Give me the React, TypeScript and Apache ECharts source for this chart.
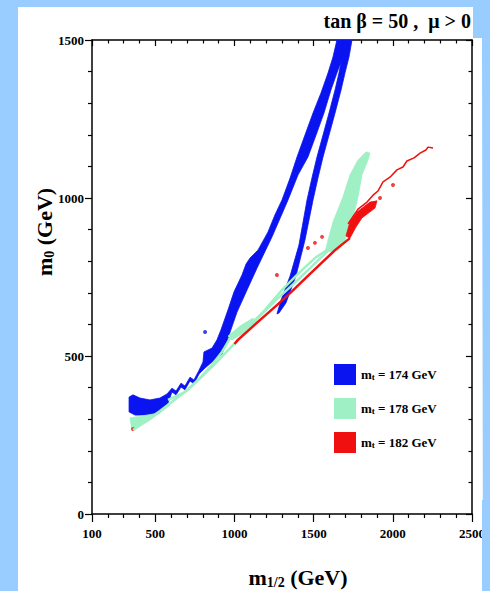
import React, { useEffect, useRef } from "react";
import * as echarts from "echarts";

// ---------- axis ticks / labels ----------
const X_TICK_LABELS = [100, 500, 1000, 1500, 2000, 2500];
const X_MAJOR_TICKS = [100, 500, 1000, 1500, 2000, 2500];
const X_MINOR_TICKS = [200, 300, 400, 600, 700, 800, 900, 1100, 1200, 1300, 1400, 1600, 1700, 1800, 1900, 2100, 2200, 2300, 2400];
const Y_TICK_LABELS = [0, 500, 1000, 1500];
const Y_MAJOR_TICKS = [0, 500, 1000, 1500];
const Y_MINOR_TICKS = [100, 200, 300, 400, 600, 700, 800, 900, 1100, 1200, 1300, 1400];

const LEGEND_NAMES = ["m_t = 174 GeV", "m_t = 178 GeV", "m_t = 182 GeV"];
const COLORS = ["#0a14f0", "#9ff0c4", "#f01010"];

// ---------- m_t = 174 GeV (blue) regions: [m1/2, m0] ----------
const BLUE_MAIN = [
  [334, 370], [334, 323], [372, 313], [454, 313], [517, 316], [561, 339], [580, 351],
  [605, 386], [631, 377], [662, 402], [687, 393], [719, 421], [744, 412], [776, 443], [814, 462], [858, 481], [921, 506],
  [946, 538], [1016, 639], [1079, 709], [1142, 778], [1237, 877], [1338, 994], [1401, 1073], [1464, 1130],
  [1515, 1199], [1565, 1269], [1609, 1342], [1647, 1396], [1685, 1446], [1704, 1500],
  [1647, 1500], [1622, 1446], [1591, 1396], [1546, 1332], [1496, 1269], [1445, 1199], [1395, 1130],
  [1351, 1063], [1300, 994], [1255, 946], [1211, 892], [1148, 835], [1098, 810], [1073, 791], [1047, 756],
  [997, 703], [959, 646], [914, 582], [889, 551], [858, 525], [807, 513],
  [801, 481], [776, 455], [744, 424], [719, 433], [687, 405], [662, 414], [631, 389], [605, 398], [574, 380],
  [529, 367], [466, 361], [403, 367], [359, 377],
];
const BLUE_BRANCH = [
  [1268, 633], [1294, 677], [1351, 753], [1407, 851], [1458, 994], [1489, 1063], [1521, 1130], [1559, 1199],
  [1597, 1269], [1635, 1342], [1660, 1396], [1679, 1446], [1685, 1500],
  [1742, 1500], [1723, 1446], [1698, 1396], [1673, 1342], [1635, 1269], [1597, 1199], [1559, 1130],
  [1527, 1063], [1496, 994], [1445, 867], [1388, 753], [1325, 668], [1281, 636],
];
const BLUE_DOTS = [[814, 576]];

// ---------- m_t = 178 GeV (green) regions ----------
const GREEN_BLOB = [
  [1572, 829], [1591, 867], [1622, 924], [1685, 1003], [1729, 1073], [1780, 1120], [1831, 1146],
  [1856, 1142], [1843, 1120], [1805, 1073], [1780, 1003], [1742, 924], [1698, 867], [1654, 835],
];
const GREEN_PATCH = [[959, 563], [1035, 595], [1117, 620], [1129, 608], [1066, 576], [984, 551]];
const GREEN_TIP = [[340, 304], [529, 320], [593, 345], [466, 297], [353, 263]];
const GREEN_LINE_UPPER = [
  [580, 361], [687, 386], [782, 430], [858, 472], [921, 513], [984, 566], [1066, 592], [1117, 608],
  [1193, 646], [1300, 709], [1414, 766], [1508, 810], [1603, 842],
];
const GREEN_LINE_LOWER = [
  [359, 266], [529, 326], [719, 399], [877, 475], [1022, 551], [1148, 620], [1268, 680], [1351, 718],
  [1477, 778], [1622, 848],
];

// ---------- m_t = 182 GeV (red) regions ----------
const RED_LINE = [
  [1000, 538], [1022, 551], [1148, 608], [1268, 661], [1351, 699], [1477, 760], [1635, 835], [1729, 873],
];
const RED_BLOB = [
  [1704, 880], [1729, 924], [1774, 956], [1856, 987], [1900, 991], [1887, 968], [1805, 937], [1767, 908], [1729, 873],
];
const RED_ZIGZAG = [
  [1717, 918], [1780, 965], [1837, 987], [1875, 1009], [1906, 1022], [1938, 1051], [1982, 1066], [2026, 1089],
  [2064, 1098], [2089, 1117], [2134, 1127], [2172, 1142], [2209, 1152], [2222, 1161], [2254, 1158],
];
const RED_DOTS = [[2001, 1041], [1919, 1000], [1553, 877], [1508, 858], [1464, 842], [1268, 756], [359, 269]];

const SERIF = '"Liberation Serif", "Times New Roman", serif';

function polygonSeries(name: string, pts: number[][], color: string) {
  return {
    type: "custom",
    name,
    coordinateSystem: "cartesian2d",
    data: pts,
    encode: { x: 0, y: 1 },
    clip: true,
    silent: true,
    itemStyle: { color },
    renderItem: (params: any, api: any) => {
      if (params.dataIndex !== 0) return null;
      return {
        type: "polygon",
        shape: { points: pts.map((p) => api.coord(p)) },
        style: { fill: color, stroke: color, lineWidth: 0.8 },
      };
    },
  };
}

function lineSeries(name: string, pts: number[][], color: string, width: number) {
  return {
    type: "line",
    name,
    data: pts,
    showSymbol: false,
    symbol: "none",
    clip: true,
    silent: true,
    itemStyle: { color },
    lineStyle: { color, width },
  };
}

function dotSeries(name: string, pts: number[][], color: string, size: number) {
  return {
    type: "scatter",
    name,
    data: pts,
    symbolSize: size,
    silent: true,
    itemStyle: { color },
  };
}

export default function App() {
  const ref = useRef<HTMLDivElement>(null);

  useEffect(() => {
    if (!ref.current) return;
    const chart = echarts.init(ref.current, null, { renderer: "svg" });
    const labelStyle = {
      fontFamily: SERIF, fontWeight: "bold", fontSize: 13, color: "#000",
      formatter: (v: number) => String(v),
    };
    const lineCol = { color: "#000", width: 1.5 };
    const tickCol = { color: "#000", width: 1.2 };
    const xBase = { type: "value", min: 100, max: 2500, splitLine: { show: false } };
    const yBase = { type: "value", min: 0, max: 1500, splitLine: { show: false } };

    const legendRich = {
      m: { fontFamily: SERIF, fontWeight: "bold", fontSize: 13, lineHeight: 14, verticalAlign: "top", color: "#000" },
      s: { fontFamily: SERIF, fontWeight: "bold", fontSize: 9, lineHeight: 10, padding: [7, 0, 0, 0], verticalAlign: "bottom", color: "#000" },
      r: { fontFamily: SERIF, fontWeight: "bold", fontSize: 13, lineHeight: 14, verticalAlign: "top", color: "#000" },
    };
    const titleRich = {
      m: { font: `bold 22px ${SERIF}`, lineHeight: 23, verticalAlign: "top", fill: "#000" },
      s: { font: `bold 14px ${SERIF}`, lineHeight: 15, padding: [12, 0, 0, 0], verticalAlign: "bottom", fill: "#000" },
      r: { font: `bold 22px ${SERIF}`, lineHeight: 23, verticalAlign: "top", fill: "#000" },
    };

    chart.setOption({
      animation: false,
      backgroundColor: "transparent",
      grid: { left: 92, top: 40, width: 380, height: 474, containLabel: false },
      legend: {
        orient: "vertical",
        left: 329,
        top: 359,
        itemWidth: 22,
        itemHeight: 21,
        itemGap: 13,
        icon: "rect",
        selectedMode: false,
        data: LEGEND_NAMES.map((n, i) => ({ name: n, icon: "rect", itemStyle: { color: COLORS[i] } })),
        formatter: (name: string) => `{m|m}{s|t}{r|${name.slice(3)}}`,
        textStyle: { rich: legendRich },
      },
      xAxis: [
        {
          ...xBase,
          position: "bottom",
          axisLine: { show: true, onZero: false, lineStyle: lineCol },
          axisTick: { show: true, inside: false, length: 8, customValues: X_MAJOR_TICKS, lineStyle: tickCol },
          axisLabel: { ...labelStyle, margin: 13, customValues: X_TICK_LABELS },
        },
        {
          ...xBase,
          position: "bottom",
          axisLine: { show: false, onZero: false },
          axisTick: { show: true, inside: false, length: 4, customValues: X_MINOR_TICKS, lineStyle: tickCol },
          axisLabel: { show: false },
        },
        {
          ...xBase,
          position: "top",
          axisLine: { show: true, onZero: false, lineStyle: lineCol },
          axisTick: { show: true, inside: true, length: 6, customValues: X_MAJOR_TICKS, lineStyle: tickCol },
          axisLabel: { show: false },
        },
        {
          ...xBase,
          position: "top",
          axisLine: { show: false, onZero: false },
          axisTick: { show: true, inside: true, length: 3.5, customValues: X_MINOR_TICKS, lineStyle: tickCol },
          axisLabel: { show: false },
        },
      ],
      yAxis: [
        {
          ...yBase,
          position: "left",
          axisLine: { show: true, onZero: false, lineStyle: lineCol },
          axisTick: { show: true, inside: false, length: 7, customValues: Y_MAJOR_TICKS, lineStyle: tickCol },
          axisLabel: { ...labelStyle, margin: 8, customValues: Y_TICK_LABELS },
        },
        {
          ...yBase,
          position: "left",
          axisLine: { show: false, onZero: false },
          axisTick: { show: true, inside: false, length: 4, customValues: Y_MINOR_TICKS, lineStyle: tickCol },
          axisLabel: { show: false },
        },
        {
          ...yBase,
          position: "right",
          axisLine: { show: true, onZero: false, lineStyle: lineCol },
          axisTick: { show: true, inside: true, length: 6, customValues: Y_MAJOR_TICKS, lineStyle: tickCol },
          axisLabel: { show: false },
        },
        {
          ...yBase,
          position: "right",
          axisLine: { show: false, onZero: false },
          axisTick: { show: true, inside: true, length: 3.5, customValues: Y_MINOR_TICKS, lineStyle: tickCol },
          axisLabel: { show: false },
        },
      ],
      graphic: [
        {
          type: "text",
          x: 471,
          y: 21,
          style: {
            text: "tan β = 50 ,  μ > 0",
            font: `bold 20px ${SERIF}`,
            fill: "#000",
            align: "right",
            verticalAlign: "middle",
            textAlign: "right",
            textVerticalAlign: "middle",
          },
        },
        {
          type: "text",
          x: 298,
          y: 578,
          style: {
            text: "{m|m}{s|1/2}{r| (GeV)}",
            align: "center",
            verticalAlign: "middle",
            textAlign: "center",
            textVerticalAlign: "middle",
            fill: "#000",
            rich: titleRich,
          },
        },
        {
          type: "text",
          x: 45,
          y: 232,
          rotation: Math.PI / 2,
          style: {
            text: "{m|m}{s|0}{r| (GeV)}",
            align: "center",
            verticalAlign: "middle",
            textAlign: "center",
            textVerticalAlign: "middle",
            fill: "#000",
            rich: titleRich,
          },
        },
      ],
      series: [
        polygonSeries(LEGEND_NAMES[0], BLUE_MAIN, COLORS[0]),
        polygonSeries(LEGEND_NAMES[0], BLUE_BRANCH, COLORS[0]),
        dotSeries(LEGEND_NAMES[0], BLUE_DOTS, COLORS[0], 4),
        polygonSeries(LEGEND_NAMES[1], GREEN_BLOB, COLORS[1]),
        polygonSeries(LEGEND_NAMES[1], GREEN_PATCH, COLORS[1]),
        polygonSeries(LEGEND_NAMES[1], GREEN_TIP, COLORS[1]),
        lineSeries(LEGEND_NAMES[1], GREEN_LINE_UPPER, COLORS[1], 2.5),
        lineSeries(LEGEND_NAMES[1], GREEN_LINE_LOWER, COLORS[1], 2.5),
        lineSeries(LEGEND_NAMES[2], RED_LINE, COLORS[2], 2.5),
        polygonSeries(LEGEND_NAMES[2], RED_BLOB, COLORS[2]),
        lineSeries(LEGEND_NAMES[2], RED_ZIGZAG, COLORS[2], 1.5),
        dotSeries(LEGEND_NAMES[2], RED_DOTS, COLORS[2], 4),
      ],
    });
    return () => chart.dispose();
  }, []);

  return (
    <div style={{ position: "fixed", left: 0, top: 0, width: 490, height: 591, background: "#99ccff", overflow: "hidden" }}>
      <div
        style={{
          position: "absolute", left: 0, top: 0, width: 490, height: 591, background: "#ffffff",
          clipPath: "polygon(18px 7px, 473px 7px, 473px 38px, 482px 38px, 483px 591px, 18px 591px)",
        }}
      />
      <div ref={ref} style={{ position: "absolute", left: 0, top: 0, width: 490, height: 591 }} />
      <div style={{ position: "absolute", left: 482, top: 500, width: 8, height: 91, background: "#99ccff", pointerEvents: "none" }} />
    </div>
  );
}
